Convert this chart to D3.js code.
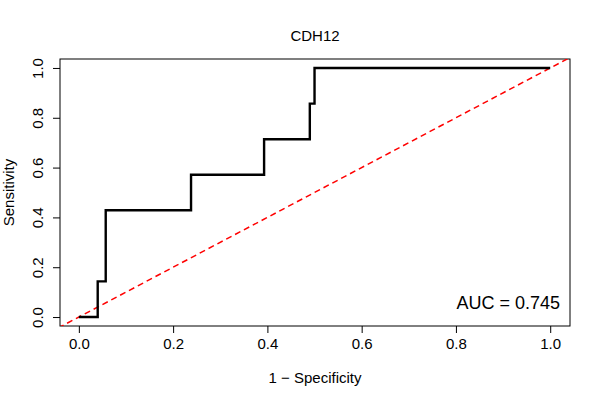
<!DOCTYPE html>
<html><head><meta charset="utf-8">
<script src="https://cdn.jsdelivr.net/npm/d3@7"></script>
<style>body{margin:0;background:#fff}text{font-family:"Liberation Sans",Arial,sans-serif}</style>
</head><body><svg id="c" width="600" height="400"></svg>
<script>
// ROC step points (1 - specificity, sensitivity)
var fpr = [0, 0.04, 0.04, 0.057, 0.057, 0.238, 0.238, 0.393, 0.393, 0.49, 0.49, 0.5, 0.5, 1.0]
var tpr = [0, 0, 0.143, 0.143, 0.429, 0.429, 0.571, 0.571, 0.714, 0.714, 0.857, 0.857, 1.0, 1.0]
var ticks = [0, 0.2, 0.4, 0.6, 0.8, 1.0]

;(function() {
  var svg = d3.select('#c')
  var L = 60, R = 570, T = 59, B = 326
  var x = d3.scaleLinear().domain([-0.04, 1.042]).range([L, R])
  var y = d3.scaleLinear().domain([-0.036, 1.036]).range([B, T])

  svg.append('defs').append('clipPath').attr('id', 'clip')
    .append('rect').attr('x', L).attr('y', T).attr('width', R - L).attr('height', B - T)

  svg.append('g').attr('transform', 'translate(0,' + B + ')')
    .call(d3.axisBottom(x).tickValues(ticks).tickFormat(d3.format('.1f')).tickSizeOuter(0).tickSize(7).tickPadding(5))
  var ya = svg.append('g').attr('transform', 'translate(' + L + ',0)')
    .call(d3.axisLeft(y).tickValues(ticks).tickFormat(d3.format('.1f')).tickSizeOuter(0).tickSize(7).tickPadding(4))
  svg.selectAll('.domain').remove()
  svg.selectAll('.tick text').attr('font-size', 15).attr('fill', '#000')
  ya.selectAll('.tick text').attr('transform', 'rotate(-90)').attr('text-anchor', 'middle').attr('x', 0).attr('y', -17).attr('dy', 0)

  svg.append('rect').attr('x', L).attr('y', T).attr('width', R - L).attr('height', B - T)
    .attr('fill', 'none').attr('stroke', '#000')

  svg.append('line').attr('clip-path', 'url(#clip)')
    .attr('x1', x(-0.1)).attr('y1', y(-0.1)).attr('x2', x(1.1)).attr('y2', y(1.1))
    .attr('stroke', 'red').attr('stroke-width', 1.5).attr('stroke-dasharray', '6,4')

  var pts = fpr.map(function(d, i) { return [d, tpr[i]] })
  svg.append('path').datum(pts)
    .attr('d', d3.line().x(function(d) { return x(d[0]) }).y(function(d) { return y(d[1]) }))
    .attr('fill', 'none').attr('stroke', '#000').attr('stroke-width', 2.4)

  svg.append('text').attr('x', (L + R) / 2).attr('y', 41).attr('text-anchor', 'middle').attr('font-size', 15).text('CDH12')
  svg.append('text').attr('x', (L + R) / 2).attr('y', 383).attr('text-anchor', 'middle').attr('font-size', 15).text('1 \u2212 Specificity')
  svg.append('text').attr('transform', 'translate(14,' + (T + B) / 2 + ') rotate(-90)').attr('text-anchor', 'middle').attr('font-size', 15).text('Sensitivity')
  svg.append('text').attr('x', 560).attr('y', 309).attr('text-anchor', 'end').attr('font-size', 18).text('AUC = 0.745')
})()
</script></body></html>
